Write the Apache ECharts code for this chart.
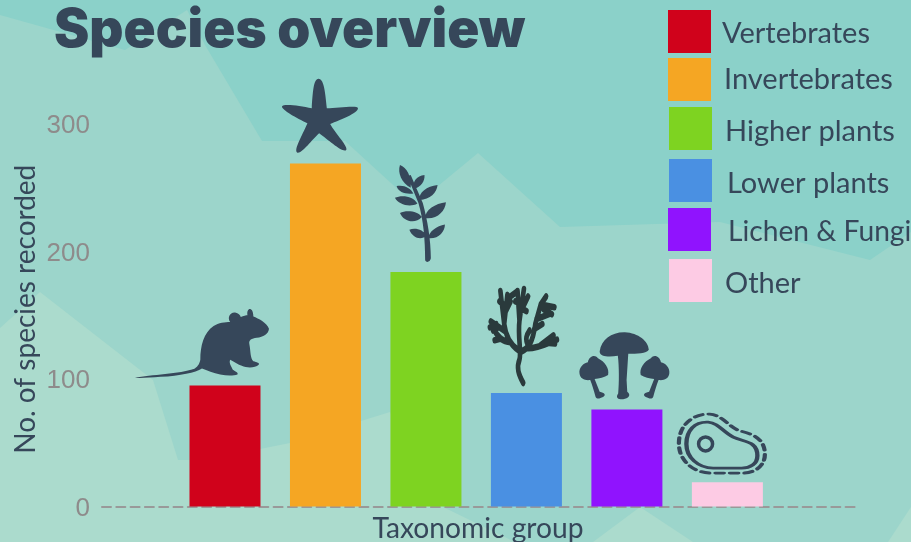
<!DOCTYPE html>
<html><head><meta charset="utf-8">
<style>html,body{margin:0;padding:0;overflow:hidden}#c{width:911px;height:542px}</style>
<script src="https://cdn.jsdelivr.net/npm/echarts@6/dist/echarts.min.js"></script>
</head><body><div id="c"></div>
<script>
const titleText = 'Species overview';
const categories = ['Vertebrates','Invertebrates','Higher plants','Lower plants','Lichen & Fungi','Other'];
const speciesCounts = [95, 269, 184, 89, 76, 19];
const barColors = ['#D0021B','#F5A623','#7ED321','#4A90E2','#9013FE','#FDCBE4'];
const yTicks = {min:0,max:300,interval:100};
const legendBoxes = [[668,10,6,29,4],[668,58,8,29,0],[669,107,8,29,6],[669,159,10,29,6],[668,208,12,28.2,4],[669,259,8,29,6]];
const ink = '#36475A';

const star='path://M955 237C970 237 975 270 980 325C1010 325 1073 315 1073 325C1073 340 1020 360 990 372C1005 400 1045 440 1038 450C1028 460 985 420 957 400C935 420 905 462 892 458C880 450 905 410 922 370C890 355 845 330 846 320C850 310 900 318 935 325C938 280 940 237 955 237Z';
const rat='path://M403 294C450 285 540 282 580 268C590 262 597 255 600 240C600 200 610 160 640 140C655 130 675 128 690 128C680 115 690 98 705 100C715 102 720 108 722 113C730 110 738 108 742 108C740 95 745 88 752 90C758 92 760 105 760 112C775 118 800 130 807 148C805 165 790 172 770 175C755 178 745 180 748 195C752 215 750 235 760 245C770 248 780 250 776 255C765 265 740 265 725 258C715 255 700 245 690 240C685 250 695 262 698 270C705 275 715 278 712 284C700 288 680 288 660 284C640 280 620 272 605 266C585 278 540 288 480 291C450 293 420 296 403 294Z';
const leaf='path://M1275 780C1275 720 1270 660 1255 610L1222 530L1232 527L1268 610C1282 660 1292 720 1292 775C1290 788 1276 788 1275 780Z'
 +'M1232 565C1205 550 1192 520 1200 497C1220 505 1235 530 1232 565Z'
 +'M1240 568C1238 545 1250 530 1273 527C1275 545 1262 565 1240 568Z'
 +'M1240 582C1220 585 1195 580 1190 560C1210 555 1232 565 1240 582Z'
 +'M1258 602C1255 580 1280 560 1312 557C1310 580 1290 600 1258 602Z'
 +'M1252 612C1230 625 1195 615 1185 595C1205 585 1240 590 1252 612Z'
 +'M1275 655C1275 630 1305 612 1337 608C1335 635 1310 660 1275 655Z'
 +'M1265 652C1245 675 1210 665 1200 640C1220 630 1255 635 1265 652Z'
 +'M1285 715C1285 695 1310 678 1334 674C1334 695 1315 718 1285 715Z'
 +'M1280 708C1262 722 1238 715 1228 690C1245 682 1270 690 1280 708Z';
const mushrooms='path://M420 215C425 180 455 157 495 158C535 160 565 185 566 210C560 222 530 222 505 222L500 300L502 335C515 345 505 355 490 357C478 358 465 355 475 340C478 310 478 260 474 228C450 232 420 232 420 215Z'
 +'M360 280C358 262 372 250 385 247C388 230 405 222 415 235C435 245 450 265 445 285C435 292 418 296 405 297L420 335C435 338 440 345 430 350C420 355 412 357 408 350C402 330 398 315 392 300C378 302 362 298 360 280Z'
 +'M627 280C629 262 615 250 602 247C599 230 582 222 572 235C552 245 537 265 542 285C552 292 569 296 582 297L567 335C552 338 547 345 557 350C567 355 575 357 579 350C585 330 589 315 595 300C609 302 625 298 627 280Z';
const seaweed='path://M190 312C175 285 168 265 178 240C185 215 172 170 178 120L172 28M178 120L192 22M178 100L205 45M165 60L190 70M170 30L150 45M180 80L200 90'
 +'M176 212C150 195 135 170 130 130L118 28M130 130L140 40M130 100L150 60M132 152L88 122M112 140L95 150M150 186C130 185 110 175 98 145M120 175L100 180M105 130L85 140M115 60L135 75'
 +'M184 215C205 205 220 190 228 130L245 70L262 45M245 70L288 78M232 115L275 98M255 85L280 100M205 205C235 205 265 190 296 178M245 195L285 165M262 188L290 190M210 150C200 165 195 175 205 195M225 145L250 130';
const meatInner='path://M680 490C680 450 705 423 745 425C775 427 790 455 820 470C850 485 892 480 892 525C892 550 870 562 845 562L760 562C715 562 680 530 680 490Z';
const meatOuter='path://M658 490C658 430 705 400 750 402C790 405 805 440 840 452C870 460 915 470 915 522C915 560 880 578 850 578L755 578C700 578 658 540 658 490Z';

const iconFill = (symbol,i,size,off,color)=>({type:'scatter',silent:true,clip:false,z:5,symbol,symbolSize:size,symbolOffset:off,
  data:[[i,speciesCounts[i]]],itemStyle:{color:color||ink,opacity:1}});
const iconLine = (symbol,i,size,off,width,dash,color)=>({type:'scatter',silent:true,clip:false,z:5,symbol,symbolSize:size,symbolOffset:off,
  data:[[i,speciesCounts[i]]],itemStyle:{color:'transparent',opacity:1,borderColor:color||ink,borderWidth:width,borderType:dash||'solid',borderCap:'round',borderJoin:'round'}});

const barSeries = categories.map((name,i)=>({type:'bar',name,barWidth:71,barGap:'-100%',silent:true,
  data:[[i,speciesCounts[i]]],itemStyle:{color:barColors[i]}}));

const iconSeries = [
  iconFill(rat,0,[134,69],[-23,-41.8]),
  iconFill(star,1,[76,74],[-5.5,-47.7]),
  iconFill(leaf,2,[51,97],[-5.5,-58.5]),
  iconLine(seaweed,3,[67,94],[-3,-57],5.5,'solid','#2A3A3C'),
  iconFill(mushrooms,4,[90,67],[-2.5,-43.8]),
  iconLine(meatOuter,5,[86,59],[-5.5,-38.7],3.5,[7,5]),
  iconLine(meatInner,5,[71,46],[-5.5,-37.2],3.5),
  iconLine('circle',5,[14,14],[-21.8,-38.4],3.5)
];

const poly=(points,fill)=>({type:'polygon',z:-2,silent:true,shape:{points},style:{fill}});
const chart = echarts.init(document.getElementById('c'),null,{renderer:'canvas'});
chart.setOption({
  animation:false,
  backgroundColor:'#8BD1C9',
  title:{text:titleText,left:54,top:5,padding:0,textStyle:{fontFamily:'Inter',fontWeight:900,fontSize:53,color:ink}},
  grid:{left:102,right:53,top:124,bottom:35.5,outerBoundsMode:'none'},
  legend:categories.map((name,i)=>({data:[name],left:legendBoxes[i][0],top:legendBoxes[i][1],padding:0,itemWidth:43,itemHeight:43,icon:'rect',selectedMode:false,
    formatter:'{t|{name}}',
    textStyle:{rich:{t:{fontFamily:'Lato',fontSize:legendBoxes[i][3],color:ink,padding:[legendBoxes[i][4],0,0,legendBoxes[i][2]]}}}})),
  xAxis:{type:'value',min:-1.224,max:6.3,splitLine:{show:false},axisTick:{show:false},axisLabel:{show:false},
    axisLine:{show:true,onZero:true,lineStyle:{color:'#999',width:2,type:[9,5.3]}},
    name:'Taxonomic group',nameLocation:'middle',nameGap:8,nameTextStyle:{fontFamily:'Lato',fontSize:28.2,color:ink,padding:[0,4,0,0]}},
  yAxis:{type:'value',min:yTicks.min,max:yTicks.max,interval:yTicks.interval,splitLine:{show:false},axisTick:{show:false},axisLine:{show:false},
    axisLabel:{margin:12,formatter:'{t|{value}}',rich:{t:{fontFamily:'Liberation Sans',fontSize:26,color:'#8E8B8B',padding:[4,0,0,0]}}},
    name:'No. of species recorded',nameLocation:'middle',nameGap:62,nameMoveOverlap:false,nameTextStyle:{fontFamily:'Lato',fontSize:28,color:ink,padding:[0,0,0,12]}},
  graphic:[
    poly([[0,15],[125,50],[187,10],[205,45],[262,141],[345,141],[415,205],[478,153],[560,227],[720,222],[870,260],[911,232],[911,542],[0,542]],'#9CD5CB'),
    poly([[0,328],[40,292],[153,380],[178,460],[205,460],[290,443],[390,412],[443,507],[515,542],[0,542]],'#ABDBCD'),
    poly([[593,542],[640,507],[693,542]],'#ABDBCD'),
    poly([[888,542],[911,507],[911,542]],'#ABDBCD')
  ],
  series:[...barSeries,...iconSeries]
});
</script></body></html>
